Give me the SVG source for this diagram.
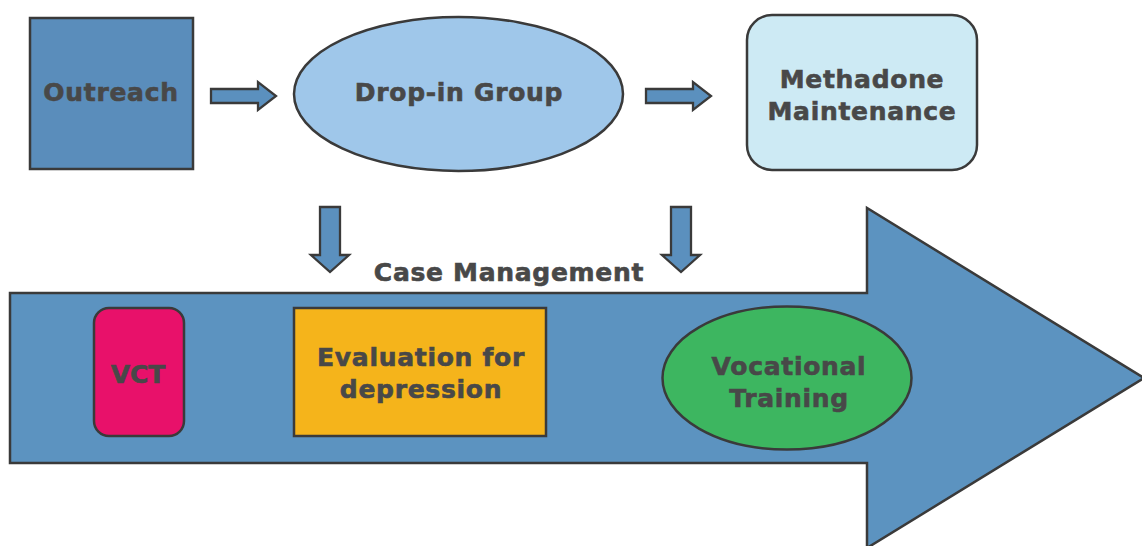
<svg xmlns="http://www.w3.org/2000/svg" width="1142" height="546" viewBox="0 0 1142 546">
<style>
.lbl{font-family:"DejaVu Sans","Verdana",sans-serif;font-weight:bold;font-size:25px;fill:#484848;stroke:#484848;stroke-width:0.6;text-anchor:middle;letter-spacing:0.7px}
.sh{stroke:#3a3a3a;stroke-width:2.5}
.arr{fill:#5b90be;stroke:#3a3a3a;stroke-width:2.3;stroke-linejoin:miter}
</style>
<rect width="1142" height="546" fill="#ffffff"/>
<g id="case-management">
<path class="sh" d="M10,293 H867 V208 L1144,378 L867,548 V463 H10 Z" fill="#5c93c0"/>
<text class="lbl" x="509" y="281">Case Management</text>
</g>
<g id="outreach">
<rect class="sh" x="30" y="18" width="163" height="151" fill="#5a8dbb"/>
<text class="lbl" x="111" y="101">Outreach</text>
</g>
<g id="drop-in-group">
<ellipse class="sh" cx="458.5" cy="94" rx="164.5" ry="77" fill="#9fc7ea"/>
<text class="lbl" x="459" y="101">Drop-in Group</text>
</g>
<g id="methadone-maintenance">
<rect class="sh" x="747" y="15" width="230" height="155" rx="25" fill="#cdeaf4"/>
<text class="lbl" x="862" y="88">Methadone</text>
<text class="lbl" x="862" y="120">Maintenance</text>
</g>
<g id="vct">
<rect class="sh" x="94" y="308" width="90" height="128" rx="15" fill="#e8116a"/>
<text class="lbl" x="138" y="383" style="letter-spacing:0px">VCT</text>
</g>
<g id="evaluation-for-depression">
<rect class="sh" x="294" y="308" width="252" height="128" fill="#f5b41b"/>
<text class="lbl" x="421" y="366">Evaluation for</text>
<text class="lbl" x="421" y="398">depression</text>
</g>
<g id="vocational-training">
<ellipse class="sh" cx="787" cy="378" rx="124.5" ry="71.5" fill="#3db660"/>
<text class="lbl" x="789" y="375">Vocational</text>
<text class="lbl" x="789" y="407">Training</text>
</g>
<g id="connectors">
<path class="arr" d="M211,89 H258 V82 L276,96 L258,110 V103 H211 Z"/>
<path class="arr" d="M646,89 H693 V82 L711,96 L693,110 V103 H646 Z"/>
<path class="arr" d="M320,207 H340 V255 H349 L330,272 L311,255 H320 Z"/>
<path class="arr" d="M671,207 H691 V255 H700 L681,272 L662,255 H671 Z"/>
</g>
</svg>
